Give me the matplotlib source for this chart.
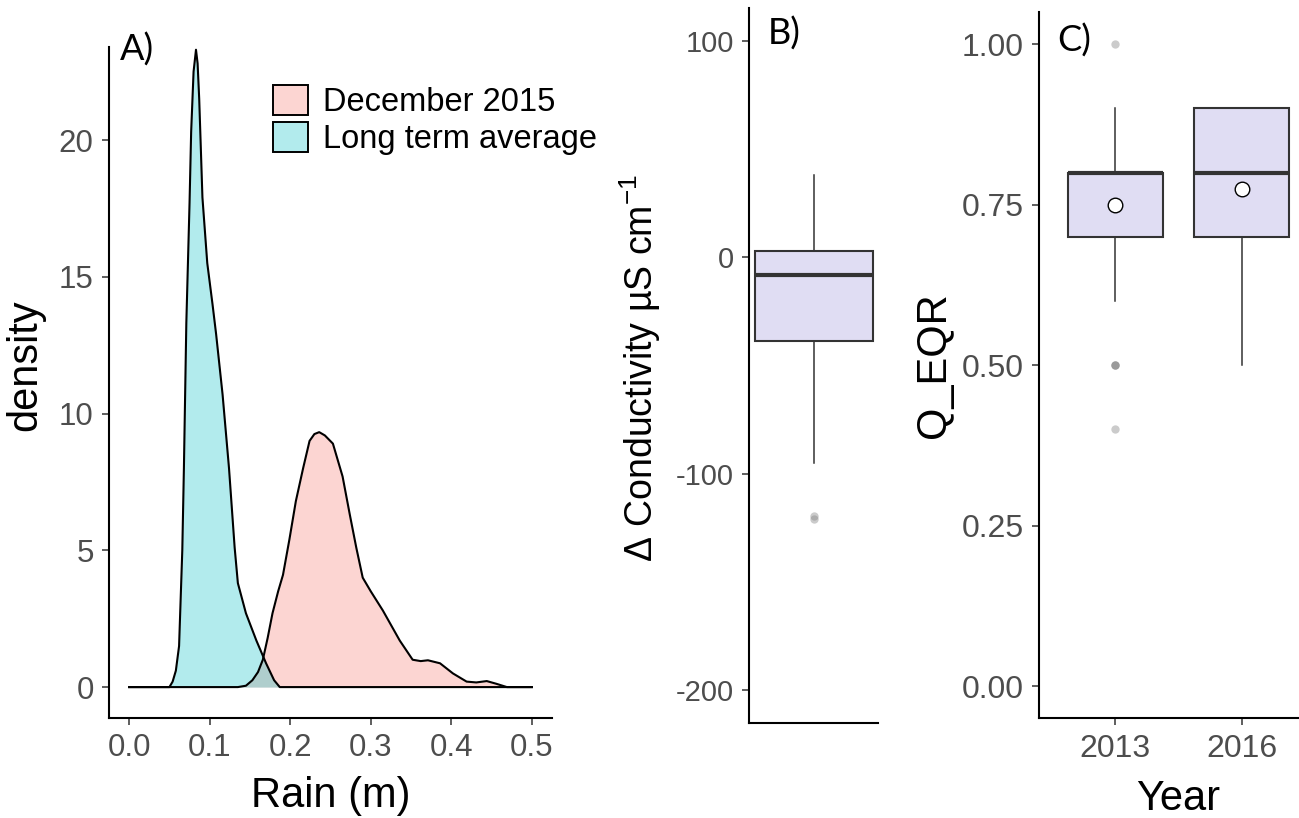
import matplotlib

matplotlib.use("Agg")
import matplotlib.pyplot as plt
from matplotlib.patches import Patch

plt.rcParams["font.family"] = ["Liberation Sans", "DejaVu Sans"]
plt.rcParams["mathtext.fontset"] = "custom"
plt.rcParams["mathtext.rm"] = "Liberation Sans"
plt.rcParams["mathtext.it"] = "Liberation Sans:italic"
plt.rcParams["mathtext.default"] = "regular"
plt.rcParams["axes.unicode_minus"] = False

# ---- panel A: rain density curves ----
rain_lta = [0.0, 0.050, 0.054, 0.058, 0.062, 0.066, 0.068, 0.071, 0.075, 0.077,
            0.080, 0.083, 0.085, 0.087, 0.091, 0.097, 0.1035, 0.108, 0.116, 0.124,
            0.131, 0.135, 0.145, 0.158, 0.170, 0.180, 0.187, 0.5]
dens_lta = [0, 0, 0.2, 0.6, 1.5, 5.0, 8.0, 13.3, 17.7, 20.3,
            22.5, 23.3, 22.8, 21.5, 17.9, 15.5, 14.0, 12.9, 10.7, 8.0,
            5.1, 3.8, 2.7, 1.7, 0.87, 0.25, 0, 0]
rain_dec = [0.0, 0.135, 0.145, 0.153, 0.160, 0.166, 0.172, 0.178, 0.185, 0.191,
            0.199, 0.207, 0.216, 0.224, 0.230, 0.236, 0.243, 0.253, 0.265, 0.274,
            0.282, 0.290, 0.300, 0.315, 0.336, 0.352, 0.362, 0.371, 0.386, 0.402,
            0.419, 0.431, 0.444, 0.456, 0.469, 0.5]
dens_dec = [0, 0, 0.05, 0.25, 0.55, 1.0, 1.8, 2.7, 3.5, 4.1,
            5.4, 6.8, 8.0, 9.0, 9.25, 9.32, 9.2, 8.9, 7.7, 6.3,
            5.1, 4.0, 3.5, 2.8, 1.7, 1.0, 0.95, 0.98, 0.87, 0.5,
            0.2, 0.17, 0.22, 0.12, 0, 0]
series_labels = ["December 2015", "Long term average"]

# ---- panel B: change in conductivity ----
cond_stats = dict(med=-8.0, q1=-38.8, q3=2.8, whislo=-94.9, whishi=38.2,
                  fliers=[-119.5, -121.0])

# ---- panel C: Q_EQR by year ----
years = ["2013", "2016"]
eqr_med = [0.80, 0.80]
eqr_q1 = [0.70, 0.70]
eqr_q3 = [0.80, 0.90]
eqr_lo = [0.60, 0.50]
eqr_hi = [0.90, 0.90]
eqr_mean = [0.75, 0.775]
eqr_fliers = [[1.0, 0.5, 0.5, 0.5, 0.4], []]

pink = (248 / 255, 118 / 255, 109 / 255)
cyan = (0, 191 / 255, 196 / 255)
box_fill = "#E0DDF3"
tick_col = "#4D4D4D"

fig = plt.figure(figsize=(12.99, 8.18), dpi=100)
W, H = 1299.0, 818.0


def axes_px(left, top, right, bottom):
    return fig.add_axes([left / W, 1 - bottom / H, (right - left) / W, (bottom - top) / H])


def style_axes(ax, size):
    for s in ["top", "right"]:
        ax.spines[s].set_visible(False)
    for s in ["left", "bottom"]:
        ax.spines[s].set_linewidth(1.5)
        ax.spines[s].set_color("black")
    ax.tick_params(labelsize=size, labelcolor=tick_col, color="#333333",
                   width=1.1, length=5, pad=6)


box_kw = dict(
    patch_artist=True,
    boxprops=dict(facecolor=box_fill, edgecolor="#333333", linewidth=1.5),
    medianprops=dict(color="#333333", linewidth=3),
    whiskerprops=dict(color="#333333", linewidth=1.1),
    capprops=dict(linewidth=0),
    flierprops=dict(marker="o", markerfacecolor="#7F7F7F", markeredgecolor="none",
                    alpha=0.4, markersize=6),
)

# A
axA = axes_px(109, 47, 552, 718)
axA.fill_between(rain_dec, dens_dec, color=pink, alpha=0.3, linewidth=0)
axA.fill_between(rain_lta, dens_lta, color=cyan, alpha=0.3, linewidth=0)
axA.plot(rain_dec, dens_dec, color="black", linewidth=1.5)
axA.plot(rain_lta, dens_lta, color="black", linewidth=1.5)
axA.set_xlim(-0.025, 0.525)
axA.set_ylim(-1.13, 23.4)
axA.set_xticks([0.0, 0.1, 0.2, 0.3, 0.4, 0.5])
axA.set_yticks([0, 5, 10, 15, 20])
style_axes(axA, 22.5)
axA.set_xlabel("Rain (m)", fontsize=30)
axA.xaxis.set_label_coords(0.5, -0.086)
axA.set_ylabel("density", fontsize=30)
axA.yaxis.set_label_coords(-0.145, 0.526)
handles = [Patch(facecolor=pink + (0.3,), edgecolor="black", linewidth=1.4),
           Patch(facecolor=cyan + (0.3,), edgecolor="black", linewidth=1.4)]
axA.legend(handles, series_labels, loc="upper left", bbox_to_anchor=(0.3695, 0.9434),
           frameon=False, fontsize=23.5, handlelength=1.09, handleheight=1.05,
           labelspacing=0.1, handletextpad=0.46, borderpad=0, borderaxespad=0)

# B
axB = axes_px(749.3, 8.3, 878, 722.7)
cond_stats["label"] = ""
axB.bxp([cond_stats], positions=[1], widths=0.82, **box_kw)
axB.set_xlim(0.553, 1.447)
axB.set_ylim(-215, 115)
axB.set_yticks([-200, -100, 0, 100])
axB.set_xticks([])
style_axes(axB, 21)
axB.set_ylabel("Δ Conductivity µS cm$^{-1}$", fontsize=27)
axB.yaxis.set_label_coords(-0.67, 0.497)

# C
axC = axes_px(1039.3, 12, 1317.7, 718.3)
eqr_stats = []
for i in range(len(years)):
    eqr_stats.append(dict(label=years[i], med=eqr_med[i], q1=eqr_q1[i], q3=eqr_q3[i],
                          whislo=eqr_lo[i], whishi=eqr_hi[i], mean=eqr_mean[i],
                          fliers=eqr_fliers[i]))
axC.bxp(eqr_stats, positions=[1, 2], widths=0.75, showmeans=True,
        meanprops=dict(marker="o", markerfacecolor="white", markeredgecolor="black",
                       markersize=10.5, markeredgewidth=1), **box_kw)
axC.set_xlim(0.4, 2.6)
axC.set_ylim(-0.05, 1.05)
axC.set_yticks([0, 0.25, 0.5, 0.75, 1.0])
axC.set_yticklabels(["0.00", "0.25", "0.50", "0.75", "1.00"])
style_axes(axC, 23)
axC.set_xlabel("Year", fontsize=30)
axC.xaxis.set_label_coords(0.5, -0.086)
axC.set_ylabel("Q_EQR", fontsize=30)
axC.yaxis.set_label_coords(-0.306, 0.5)

# panel letters
for txt, x, base in [("A)", 120, 60.7), ("B)", 768, 45), ("C)", 1057, 51.7)]:
    fig.text(x / W, 1 - base / H, txt, fontsize=26, family="Lato", va="baseline")

fig.savefig("out.png", dpi=100)
